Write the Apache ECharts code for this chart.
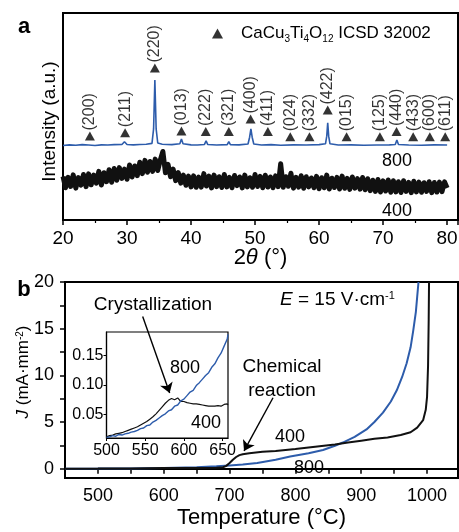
<!DOCTYPE html>
<html>
<head>
<meta charset="utf-8">
<script src="https://cdn.jsdelivr.net/npm/echarts@6/dist/echarts.min.js"></script>
<style>
    html, body { margin: 0; padding: 0; background: #fff; }
    #chart { width: 459px; height: 532px; }
</style>
</head>
<body>
<div id="chart"></div>
<script>
// panel a: XRD, 400 sample sampled every 0.4 deg from 20 deg
var xrdStart = 20, xrdStep = 0.4;
var xrd400 = [
    21.0, 15.6, 20.6, 16.2, 21.8, 15.4, 20.5, 16.8, 22.0, 16.1,
    22.3, 17.0, 21.7, 17.8, 23.5, 16.9, 22.8, 18.5, 24.3, 18.2,
    24.9, 19.2, 25.3, 20.1, 24.6, 19.7, 26.6, 20.8, 26.1, 21.4,
    27.9, 22.4, 28.8, 23.1, 28.3, 23.5, 29.4, 23.9, 29.0, 33.1,
    22.8, 26.9, 20.9, 24.6, 19.0, 22.9, 17.8, 21.7, 16.8, 21.2,
    16.0, 21.3, 15.8, 20.7, 15.9, 22.4, 16.4, 21.2, 15.5, 21.7,
    16.1, 20.9, 15.7, 22.0, 16.0, 20.6, 15.6, 21.5, 16.6, 20.8,
    15.5, 21.7, 16.0, 20.4, 15.8, 22.0, 16.2, 21.1, 15.6, 21.6,
    15.9, 20.8, 15.6, 21.3, 16.1, 27.2, 15.8, 20.9, 16.3, 22.6,
    15.4, 20.6, 15.9, 21.4, 15.3, 20.9, 16.0, 20.3, 15.6, 21.1,
    15.1, 20.4, 15.6, 21.7, 15.0, 20.2, 15.7, 20.6, 15.0, 21.2,
    15.3, 20.1, 14.8, 20.8, 15.4, 20.0, 14.9, 20.5, 14.6, 19.9,
    14.2, 19.2, 13.8, 19.6, 13.5, 18.9, 14.0, 19.3, 13.4, 19.0,
    13.6, 18.5, 13.3, 19.0, 13.8, 18.2, 13.2, 18.7, 13.6, 18.3,
    13.4, 18.0, 13.8, 18.5, 13.2, 18.1, 13.5, 18.3, 13.7, 18.4,
    15.5
];
var xrd800Angle = [20, 21, 22, 23, 24, 25, 26, 27, 28, 29.2, 29.6, 30.0, 31, 32, 33,
    33.9, 34.15, 34.35, 34.55, 34.8, 35.5, 37, 38.25, 38.5, 38.75, 40, 41, 42.1, 42.35, 42.6,
    44, 45.65, 45.9, 46.15, 47.5, 48.9, 49.15, 49.35, 49.55, 49.8, 51, 52.5, 54, 56, 58, 60,
    61.0, 61.2, 61.35, 61.5, 61.7, 63, 65, 67, 69, 71, 71.9, 72.15, 72.4, 74, 76, 78, 80];
var xrd800Int = [36.0, 36.3, 36.1, 36.4, 36.2, 36.0, 36.3, 36.2, 36.4, 36.5, 37.8, 36.5, 36.3, 36.5, 36.6,
    37.0, 44.0, 67.6, 44.0, 37.2, 36.6, 36.4, 36.8, 39.1, 36.8, 36.3, 36.2, 36.5, 38.2, 36.5,
    36.2, 36.4, 37.8, 36.4, 36.3, 36.7, 40.0, 44.0, 40.0, 36.7, 36.2, 36.4, 36.1, 36.3, 36.2, 36.4,
    36.8, 40.5, 46.9, 40.5, 36.8, 36.2, 36.3, 36.1, 36.2, 36.3, 36.5, 38.6, 36.5, 36.2, 36.1, 36.3, 36.2];

// ICSD 32002 reflections
var peakHkl = ['(200)', '(211)', '(220)', '(013)', '(222)', '(321)', '(400)', '(411)', '(024)',
    '(332)', '(422)', '(015)', '(125)', '(440)', '(433)', '(600)', '(611)'];
var peakAngle = [24.2, 29.7, 34.35, 38.5, 42.3, 45.9, 49.3, 52.0, 55.5, 58.5, 61.35, 64.3, 69.5, 72.1, 74.7, 77.3, 79.7];
var peakMark = [40.6, 42.2, 73.4, 43.0, 42.7, 42.7, 48.8, 42.7, 40.2, 40.2, 53.1, 40.2, 40.2, 42.7, 40.2, 40.2, 40.2];

// panel b: current density vs temperature
var temp400 = [450, 500, 550, 600, 650, 680, 690, 695, 700, 705, 710, 715, 720, 730, 750, 770, 800, 830,
    860, 880, 900, 920, 940, 960, 975, 985, 994, 998, 1000, 1001.5, 1002.5, 1003];
var j400 = [0, 0.01, 0.03, 0.07, 0.07, 0.09, 0.15, 0.3, 0.6, 0.95, 1.25, 1.45, 1.55, 1.65, 1.8, 1.9, 2.1, 2.35,
    2.6, 2.8, 3.0, 3.2, 3.35, 3.6, 3.9, 4.4, 5.2, 6.3, 7.7, 11, 16, 20];
var temp800 = [450, 500, 550, 600, 650, 680, 700, 720, 742, 770, 792, 820, 842, 860, 872, 890, 908, 920,
    933, 945, 954, 962, 969, 975, 979, 983, 985, 987];
var j800 = [0, 0.01, 0.03, 0.075, 0.16, 0.25, 0.35, 0.45, 0.6, 0.95, 1.3, 1.65, 2.0, 2.45, 2.8, 3.4, 4.2, 5.0,
    6.0, 7.2, 8.4, 9.8, 11.3, 13.0, 14.8, 16.8, 18.4, 20];

// inset
var tempInset = [500, 504, 508, 512, 516, 520, 524, 528, 532, 536, 540, 544, 548, 552, 556, 560, 564, 568,
    572, 576, 580, 584, 588, 592, 596, 600, 604, 608, 612, 616, 620, 624, 628, 632, 636, 640, 644, 648,
    652, 656, 657];
var jInset400 = [0.012, 0.014, 0.015, 0.017, 0.018, 0.019, 0.021, 0.023, 0.025, 0.027,
    0.029, 0.032, 0.035, 0.038, 0.042, 0.046, 0.051, 0.057, 0.063, 0.069,
    0.074, 0.077, 0.075, 0.078, 0.072, 0.072, 0.070, 0.069, 0.068, 0.068,
    0.067, 0.066, 0.065, 0.064, 0.064, 0.064, 0.065, 0.064, 0.067, 0.068, 0.066];
var jInset800 = [0.011, 0.012, 0.014, 0.013, 0.016, 0.015, 0.017, 0.018, 0.020, 0.021,
    0.023, 0.026, 0.027, 0.031, 0.032, 0.037, 0.040, 0.044, 0.048, 0.051,
    0.056, 0.058, 0.064, 0.066, 0.073, 0.076, 0.082, 0.088, 0.091, 0.099,
    0.104, 0.110, 0.116, 0.121, 0.130, 0.136, 0.146, 0.154, 0.166, 0.178, 0.186];

var FONT = '"Liberation Sans", Arial, sans-serif';
var BLUE = '#2d5cab';
var BLACK = '#111';

function zip(xs, ys) {
    var out = [];
    for (var i = 0; i < xs.length; i++) out.push([xs[i], ys[i]]);
    return out;
}

var xrd400Data = [];
for (var i = 0; i < xrd400.length; i++) {
    xrd400Data.push([+(xrdStart + i * xrdStep).toFixed(2), xrd400[i]]);
}

var axisLine = {show: true, lineStyle: {color: '#000', width: 2}};
var legendName = 'CaCu3Ti4O12 ICSD 32002';

var chart = echarts.init(document.getElementById('chart'));
chart.setOption({
    animation: false,
    textStyle: {fontFamily: FONT, color: '#000'},
    legend: {
        data: [{name: legendName, icon: 'triangle'}],
        left: 207,
        top: 20,
        itemWidth: 11,
        itemHeight: 10,
        formatter: function () {
            return 'CaCu{s|3}Ti{s|4}O{s|12} ICSD 32002';
        },
        textStyle: {
            fontSize: 17, color: '#000', fontFamily: FONT, lineHeight: 17, padding: [0, 0, 0, 13],
            rich: {s: {fontSize: 10, lineHeight: 10, fontFamily: FONT, color: '#000', verticalAlign: 'top', padding: [9, 0, 0, 0]}}
        }
    },
    grid: [
        {left: 63, top: 13, width: 395, height: 207, show: true, borderColor: '#000', borderWidth: 2, outerBoundsMode: 'none'},
        {left: 65, top: 282, width: 393, height: 196, show: true, borderColor: '#000', borderWidth: 2, outerBoundsMode: 'none'},
        {left: 106.5, top: 332, width: 121.5, height: 106, show: true, borderColor: '#000', borderWidth: 1.2, outerBoundsMode: 'none'}
    ],
    xAxis: [
        {
            gridIndex: 0, type: 'value', min: 20, max: 81.7, interval: 10,
            axisLine: axisLine,
            axisTick: {show: true, inside: false, length: 5, lineStyle: {width: 1.5}},
            minorTick: {show: true, splitNumber: 2, length: 3, lineStyle: {color: '#000', width: 1.2}},
            splitLine: {show: false},
            axisLabel: {
                fontSize: 19, color: '#000', margin: 9,
                formatter: function (v) { return v % 10 === 0 ? String(v) : ''; }
            },
            name: '2{i|\u03b8} (\u00b0)', nameLocation: 'middle', nameGap: 27, nameMoveOverlap: false,
            nameTextStyle: {fontSize: 22, color: '#000', rich: {i: {fontSize: 22, fontStyle: 'italic', color: '#000'}}}
        },
        {
            gridIndex: 1, type: 'value', min: 450, max: 1047, interval: 50,
            axisLine: axisLine,
            axisTick: {show: true, inside: false, length: 5, lineStyle: {width: 1.5}},
            splitLine: {show: false},
            axisLabel: {
                fontSize: 18, color: '#000', margin: 9, customValues: [500, 600, 700, 800, 900, 1000],
                formatter: function (v) { return String(v); }
            },
            name: 'Temperature (\u00b0C)', nameLocation: 'middle', nameGap: 29, nameMoveOverlap: false,
            nameTextStyle: {fontSize: 22, color: '#000'}
        },
        {
            gridIndex: 2, type: 'value', min: 500, max: 657, interval: 50,
            axisLine: {show: true, lineStyle: {color: '#000', width: 1.2}},
            axisTick: {show: true, inside: false, length: 3, lineStyle: {width: 1}},
            splitLine: {show: false},
            axisLabel: {fontSize: 16, color: '#000', margin: 5}
        }
    ],
    yAxis: [
        {
            gridIndex: 0, type: 'value', min: 0, max: 100,
            axisLine: axisLine, axisTick: {show: false}, axisLabel: {show: false}, splitLine: {show: false},
            name: 'Intensity (a.u.)', nameLocation: 'middle', nameGap: 4, nameMoveOverlap: false,
            nameTextStyle: {fontSize: 19, color: '#000', padding: [0, 10, 0, 0]}
        },
        {
            gridIndex: 1, type: 'value', min: -1, max: 20,
            axisLine: axisLine,
            axisTick: {show: true, inside: false, length: 5, lineStyle: {width: 1.5},
                customValues: [0, 2.5, 5, 7.5, 10, 12.5, 15, 17.5, 20]},
            axisLabel: {fontSize: 18, color: '#000', margin: 11, customValues: [0, 5, 10, 15, 20]},
            splitLine: {show: false},
            name: '{i|J} (mA\u00b7mm{s|-2})', nameLocation: 'middle', nameGap: 33, nameMoveOverlap: false,
            nameTextStyle: {
                fontSize: 17, color: '#000', padding: [0, 0, 0, 16],
                rich: {
                    i: {fontSize: 17, fontStyle: 'italic', color: '#000'},
                    s: {fontSize: 10, color: '#000', verticalAlign: 'top'}
                }
            }
        },
        {
            gridIndex: 2, type: 'value', min: 0.01, max: 0.19,
            axisLine: {show: true, lineStyle: {color: '#000', width: 1.2}},
            axisTick: {show: true, inside: false, length: 3, lineStyle: {width: 1}, customValues: [0.05, 0.1, 0.15]},
            axisLabel: {
                fontSize: 16, color: '#000', margin: 3, customValues: [0.05, 0.1, 0.15],
                formatter: function (v) { return v.toFixed(2); }
            },
            splitLine: {show: false}
        }
    ],
    series: [
        {
            name: '400 XRD', type: 'line', xAxisIndex: 0, yAxisIndex: 0,
            data: xrd400Data, showSymbol: false, symbol: 'none',
            lineStyle: {color: BLACK, width: 5, join: 'round'}
        },
        {
            name: '800 XRD', type: 'line', xAxisIndex: 0, yAxisIndex: 0,
            data: zip(xrd800Angle, xrd800Int), showSymbol: false, symbol: 'none',
            lineStyle: {color: BLUE, width: 1.6}
        },
        {
            name: legendName, type: 'scatter', xAxisIndex: 0, yAxisIndex: 0,
            data: zip(peakAngle, peakMark),
            symbol: 'triangle', symbolSize: [10, 9],
            itemStyle: {color: '#000'},
            label: {
                show: true, position: 'top', distance: 1, rotate: 90,
                align: 'left', verticalAlign: 'middle',
                fontSize: 16, color: '#000', fontFamily: FONT,
                formatter: function (p) { return peakHkl[p.dataIndex]; }
            },
            z: 5
        },
        {
            name: '400', type: 'line', xAxisIndex: 1, yAxisIndex: 1,
            data: zip(temp400, j400), showSymbol: false, symbol: 'none',
            lineStyle: {color: BLACK, width: 2},
            markLine: {
                silent: true, symbol: ['none', 'arrow'], symbolSize: 10,
                label: {show: false},
                lineStyle: {color: '#000', width: 1.4, type: 'solid'},
                data: [
                    [{coord: [568, 16.3]}, {coord: [609, 8.1]}],
                    [{coord: [766, 7.6]}, {coord: [722, 1.9]}]
                ]
            },
            z: 6
        },
        {
            name: '800', type: 'line', xAxisIndex: 1, yAxisIndex: 1,
            data: zip(temp800, j800), showSymbol: false, symbol: 'none',
            lineStyle: {color: BLUE, width: 2}
        },
        {
            name: '400 inset', type: 'line', xAxisIndex: 2, yAxisIndex: 2,
            data: zip(tempInset, jInset400), showSymbol: false, symbol: 'none',
            lineStyle: {color: BLACK, width: 1.2}
        },
        {
            name: '800 inset', type: 'line', xAxisIndex: 2, yAxisIndex: 2,
            data: zip(tempInset, jInset800), showSymbol: false, symbol: 'none',
            lineStyle: {color: BLUE, width: 1.4}
        }
    ],
    graphic: [
        {type: 'text', x: 24, y: 27, style: {text: 'a', font: 'bold 22px ' + FONT, fill: '#000', align: 'center', verticalAlign: 'middle'}},
        {type: 'text', x: 24, y: 290, style: {text: 'b', font: 'bold 22px ' + FONT, fill: '#000', align: 'center', verticalAlign: 'middle'}},
        {type: 'text', x: 397, y: 161, style: {text: '800', font: '18px ' + FONT, fill: '#000', align: 'center', verticalAlign: 'middle'}},
        {type: 'text', x: 397, y: 211, style: {text: '400', font: '18px ' + FONT, fill: '#000', align: 'center', verticalAlign: 'middle'}},
        {
            type: 'text', x: 280, y: 300,
            style: {
                text: '{i|E} = 15 V\u00b7cm{s|-1}', font: '19px ' + FONT, fill: '#000', align: 'left', verticalAlign: 'middle',
                rich: {
                    i: {fontSize: 19, fontStyle: 'italic', fontFamily: FONT, fill: '#000'},
                    s: {fontSize: 11, fontFamily: FONT, fill: '#000', verticalAlign: 'top'}
                }
            }
        },
        {type: 'text', x: 153, y: 305, style: {text: 'Crystallization', font: '19px ' + FONT, fill: '#000', align: 'center', verticalAlign: 'middle'}},
        {type: 'text', x: 185, y: 368, style: {text: '800', font: '18px ' + FONT, fill: '#000', align: 'center', verticalAlign: 'middle'}},
        {type: 'text', x: 206, y: 423, style: {text: '400', font: '18px ' + FONT, fill: '#000', align: 'center', verticalAlign: 'middle'}},
        {type: 'text', x: 282, y: 367, style: {text: 'Chemical', font: '19px ' + FONT, fill: '#000', align: 'center', verticalAlign: 'middle'}},
        {type: 'text', x: 282, y: 391, style: {text: 'reaction', font: '19px ' + FONT, fill: '#000', align: 'center', verticalAlign: 'middle'}},
        {type: 'text', x: 290, y: 437, style: {text: '400', font: '18px ' + FONT, fill: '#000', align: 'center', verticalAlign: 'middle'}},
        {type: 'text', x: 309, y: 468, style: {text: '800', font: '18px ' + FONT, fill: '#000', align: 'center', verticalAlign: 'middle'}}
    ]
});
</script>
</body>
</html>
